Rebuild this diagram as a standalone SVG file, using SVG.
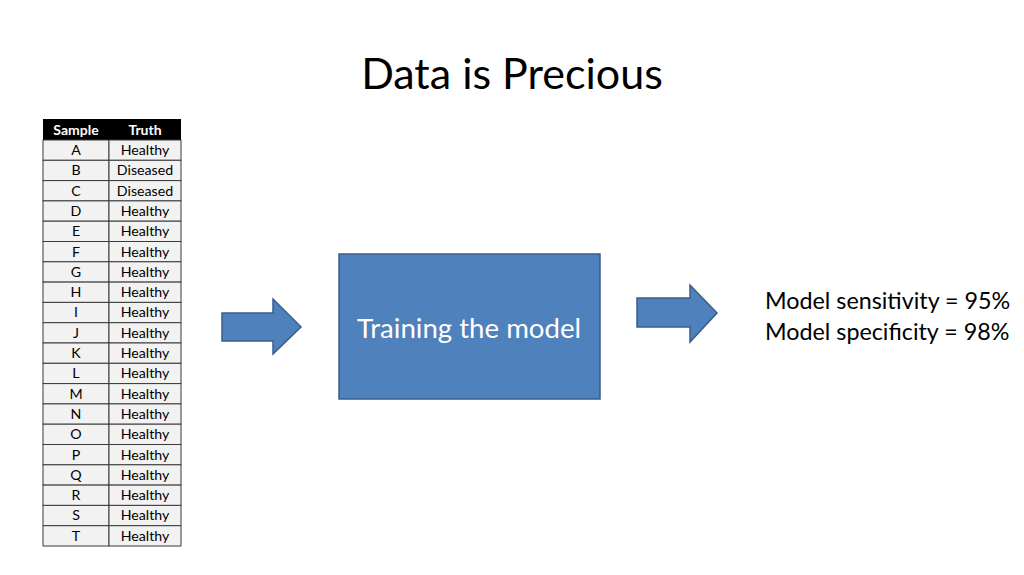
<svg xmlns="http://www.w3.org/2000/svg" width="1024" height="575" viewBox="0 0 1024 575">
<style>
text{font-family:Lato,"Liberation Sans",sans-serif;}
.cell{fill:#f2f2f2;stroke:#3a3a3a;stroke-width:1;}
.ct{font-size:14.2px;fill:#000;text-anchor:middle;}
.hd{font-size:14px;fill:#fff;font-weight:bold;text-anchor:middle;}
.shape{fill:#4f81bd;stroke:#385d8a;stroke-width:1.5;}
</style>
<rect width="1024" height="575" fill="#fff"/>
<text x="512" y="89" font-size="43" text-anchor="middle" fill="#000">Data is Precious</text>
<g id="table">
<rect x="43" y="119" width="138" height="21" fill="#000"/>
<text class="hd" x="76" y="134.5">Sample</text>
<text class="hd" x="145" y="134.5">Truth</text>
<g id="rows">
<rect class="cell" x="43" y="140" width="66" height="20.3"/><rect class="cell" x="109" y="140" width="72" height="20.3"/><text class="ct" x="76" y="155">A</text><text class="ct" x="145" y="155">Healthy</text>
<rect class="cell" x="43" y="160.3" width="66" height="20.3"/><rect class="cell" x="109" y="160.3" width="72" height="20.3"/><text class="ct" x="76" y="175.3">B</text><text class="ct" x="145" y="175.3">Diseased</text>
<rect class="cell" x="43" y="180.6" width="66" height="20.3"/><rect class="cell" x="109" y="180.6" width="72" height="20.3"/><text class="ct" x="76" y="195.6">C</text><text class="ct" x="145" y="195.6">Diseased</text>
<rect class="cell" x="43" y="200.9" width="66" height="20.3"/><rect class="cell" x="109" y="200.9" width="72" height="20.3"/><text class="ct" x="76" y="215.9">D</text><text class="ct" x="145" y="215.9">Healthy</text>
<rect class="cell" x="43" y="221.2" width="66" height="20.3"/><rect class="cell" x="109" y="221.2" width="72" height="20.3"/><text class="ct" x="76" y="236.2">E</text><text class="ct" x="145" y="236.2">Healthy</text>
<rect class="cell" x="43" y="241.5" width="66" height="20.3"/><rect class="cell" x="109" y="241.5" width="72" height="20.3"/><text class="ct" x="76" y="256.5">F</text><text class="ct" x="145" y="256.5">Healthy</text>
<rect class="cell" x="43" y="261.8" width="66" height="20.3"/><rect class="cell" x="109" y="261.8" width="72" height="20.3"/><text class="ct" x="76" y="276.8">G</text><text class="ct" x="145" y="276.8">Healthy</text>
<rect class="cell" x="43" y="282.1" width="66" height="20.3"/><rect class="cell" x="109" y="282.1" width="72" height="20.3"/><text class="ct" x="76" y="297.1">H</text><text class="ct" x="145" y="297.1">Healthy</text>
<rect class="cell" x="43" y="302.4" width="66" height="20.3"/><rect class="cell" x="109" y="302.4" width="72" height="20.3"/><text class="ct" x="76" y="317.4">I</text><text class="ct" x="145" y="317.4">Healthy</text>
<rect class="cell" x="43" y="322.7" width="66" height="20.3"/><rect class="cell" x="109" y="322.7" width="72" height="20.3"/><text class="ct" x="76" y="337.7">J</text><text class="ct" x="145" y="337.7">Healthy</text>
<rect class="cell" x="43" y="343" width="66" height="20.3"/><rect class="cell" x="109" y="343" width="72" height="20.3"/><text class="ct" x="76" y="358">K</text><text class="ct" x="145" y="358">Healthy</text>
<rect class="cell" x="43" y="363.3" width="66" height="20.3"/><rect class="cell" x="109" y="363.3" width="72" height="20.3"/><text class="ct" x="76" y="378.3">L</text><text class="ct" x="145" y="378.3">Healthy</text>
<rect class="cell" x="43" y="383.6" width="66" height="20.3"/><rect class="cell" x="109" y="383.6" width="72" height="20.3"/><text class="ct" x="76" y="398.6">M</text><text class="ct" x="145" y="398.6">Healthy</text>
<rect class="cell" x="43" y="403.9" width="66" height="20.3"/><rect class="cell" x="109" y="403.9" width="72" height="20.3"/><text class="ct" x="76" y="418.9">N</text><text class="ct" x="145" y="418.9">Healthy</text>
<rect class="cell" x="43" y="424.2" width="66" height="20.3"/><rect class="cell" x="109" y="424.2" width="72" height="20.3"/><text class="ct" x="76" y="439.2">O</text><text class="ct" x="145" y="439.2">Healthy</text>
<rect class="cell" x="43" y="444.5" width="66" height="20.3"/><rect class="cell" x="109" y="444.5" width="72" height="20.3"/><text class="ct" x="76" y="459.5">P</text><text class="ct" x="145" y="459.5">Healthy</text>
<rect class="cell" x="43" y="464.8" width="66" height="20.3"/><rect class="cell" x="109" y="464.8" width="72" height="20.3"/><text class="ct" x="76" y="479.8">Q</text><text class="ct" x="145" y="479.8">Healthy</text>
<rect class="cell" x="43" y="485.1" width="66" height="20.3"/><rect class="cell" x="109" y="485.1" width="72" height="20.3"/><text class="ct" x="76" y="500.1">R</text><text class="ct" x="145" y="500.1">Healthy</text>
<rect class="cell" x="43" y="505.4" width="66" height="20.3"/><rect class="cell" x="109" y="505.4" width="72" height="20.3"/><text class="ct" x="76" y="520.4">S</text><text class="ct" x="145" y="520.4">Healthy</text>
<rect class="cell" x="43" y="525.7" width="66" height="20.3"/><rect class="cell" x="109" y="525.7" width="72" height="20.3"/><text class="ct" x="76" y="540.7">T</text><text class="ct" x="145" y="540.7">Healthy</text>
</g>
</g>
<g id="connectors">
<path id="arrow1" class="shape" d="M222,313 H273 V299 L301,327 L273,354 V341 H222 Z"/>
<path id="arrow2" class="shape" d="M637,298 H690 V285 L717,313 L690,342 V327 H637 Z"/>
</g>
<g id="training">
<rect class="shape" x="339" y="254" width="261" height="145"/>
<text x="469" y="338" font-size="27.6" text-anchor="middle" fill="#fff">Training the model</text>
</g>
<g id="results">
<text x="765" y="309" font-size="23.3" fill="#000">Model sensitivity = 95%</text>
<text x="765" y="340" font-size="23.3" fill="#000">Model specificity = 98%</text>
</g>
</svg>
